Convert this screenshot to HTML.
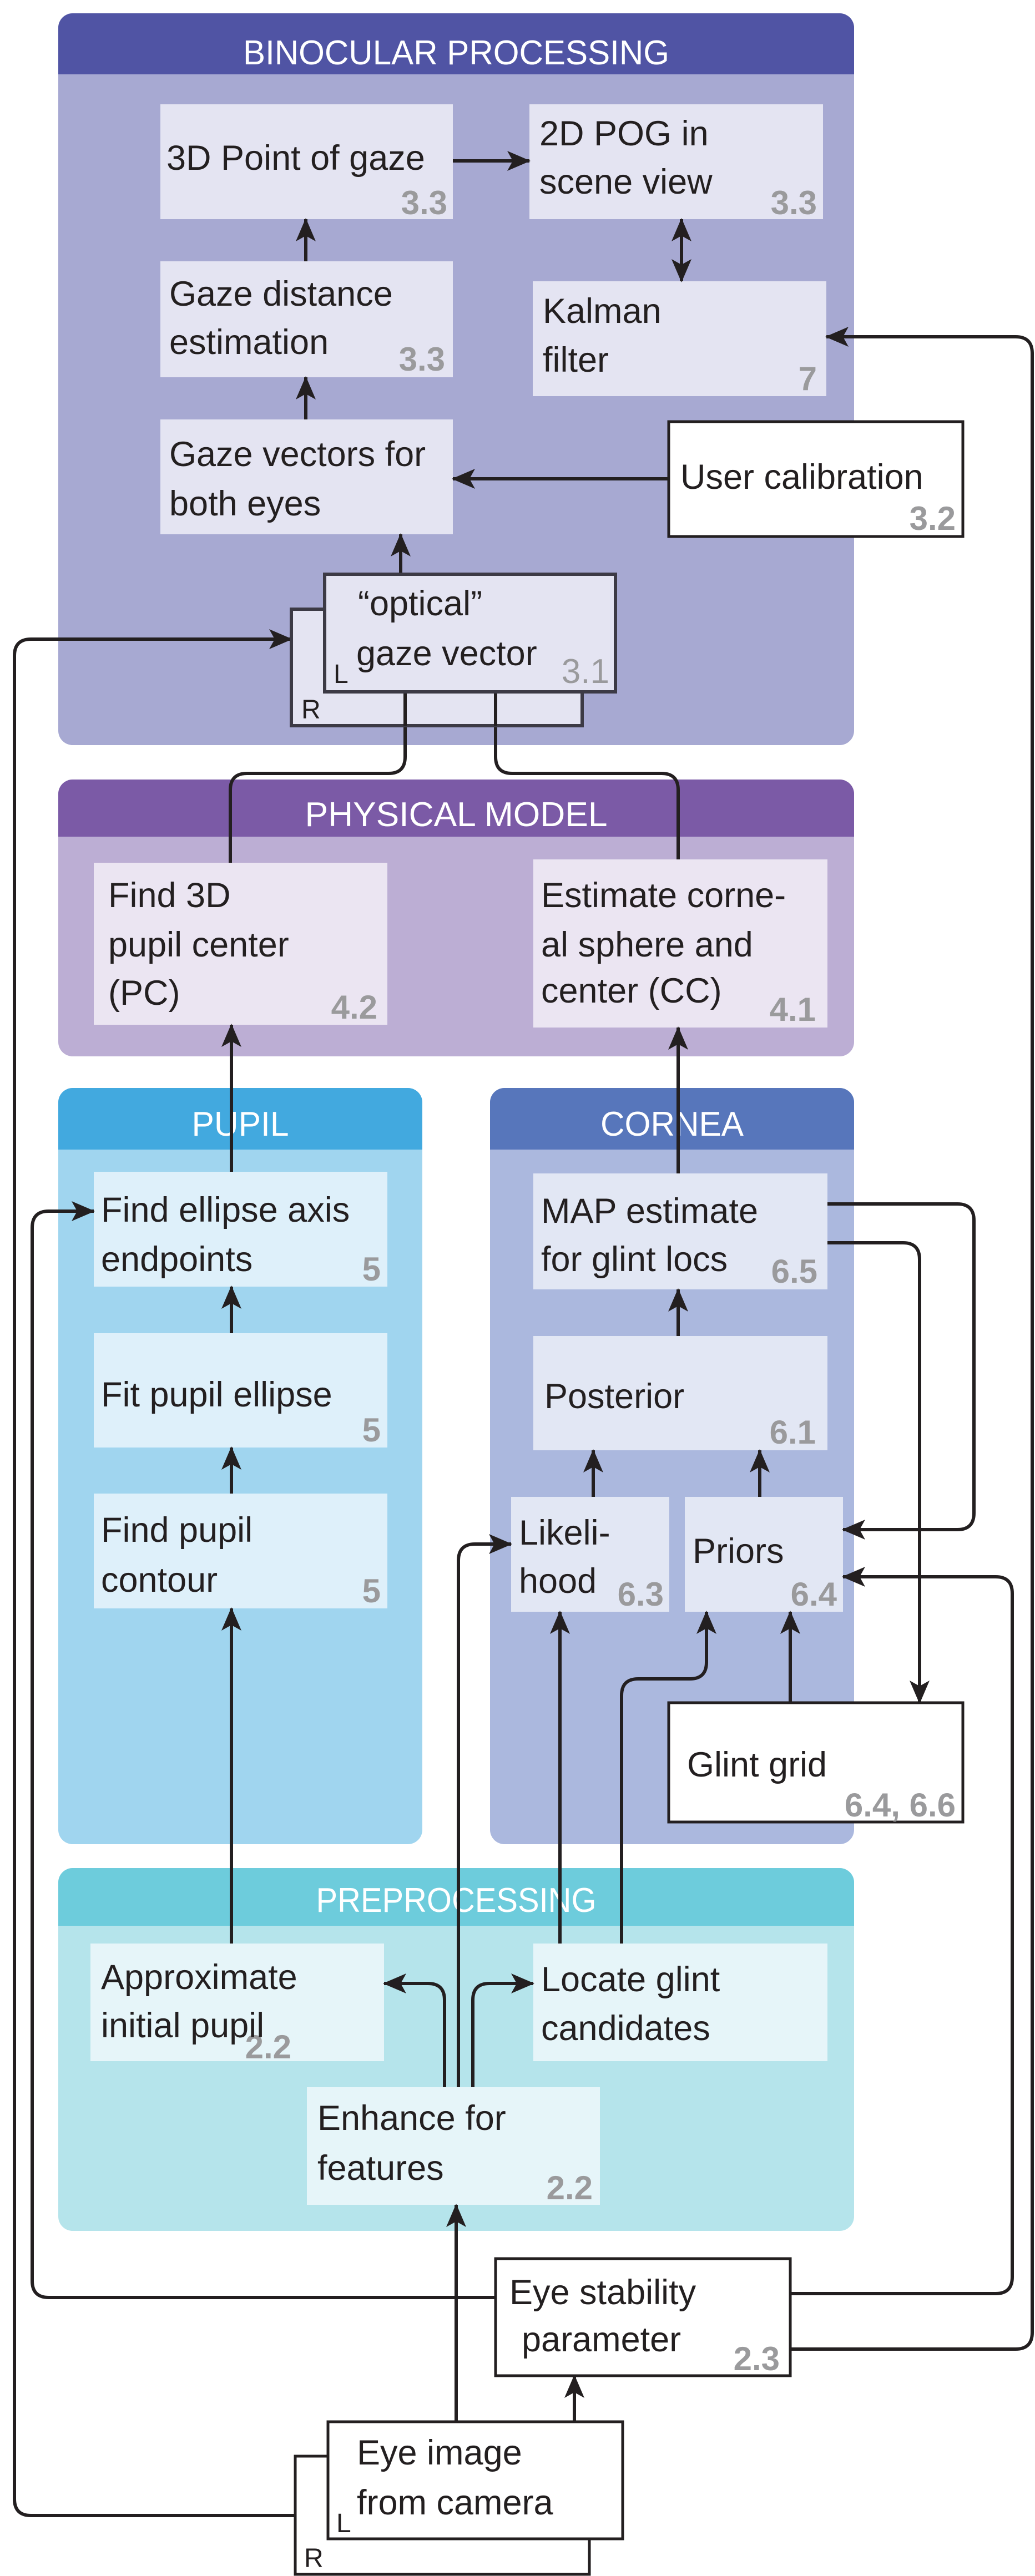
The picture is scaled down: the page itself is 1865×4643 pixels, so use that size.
<!DOCTYPE html>
<html><head><meta charset="utf-8"><style>
html,body{margin:0;padding:0;background:#fff}
svg{display:block}
text{font-family:"Liberation Sans",sans-serif}
.t{font-size:63px;fill:#231f20}
.n{font-size:60px;fill:#9a9a9c;font-weight:bold;text-anchor:end}
.h{font-size:62px;fill:#fff;text-anchor:middle}
.s{font-size:48px;fill:#231f20}
.l{fill:none;stroke:#231f20;stroke-width:6}
</style></head><body>
<svg width="1865" height="4643" viewBox="0 0 1865 4643" xmlns="http://www.w3.org/2000/svg">
<defs>
<marker id="a" markerUnits="userSpaceOnUse" markerWidth="44" markerHeight="44" refX="40" refY="20" orient="auto-start-reverse" viewBox="0 0 44 40">
<path d="M0,2 L42,20 L0,38 L10,20 Z" fill="#231f20"/>
</marker>
<clipPath id="c1"><rect x="105" y="24" width="1434" height="1319" rx="26"/></clipPath>
<clipPath id="c2"><rect x="105" y="1405" width="1434" height="499" rx="26"/></clipPath>
<clipPath id="c3"><rect x="105" y="1961" width="656" height="1363" rx="26"/></clipPath>
<clipPath id="c4"><rect x="883" y="1961" width="656" height="1363" rx="26"/></clipPath>
<clipPath id="c5"><rect x="105" y="3367" width="1434" height="654" rx="26"/></clipPath>
</defs>

<g clip-path="url(#c1)"><rect x="105" y="24" width="1434" height="1319" fill="#a7a9d2"/><rect x="105" y="24" width="1434" height="110" fill="#5054a4"/></g>
<g clip-path="url(#c2)"><rect x="105" y="1405" width="1434" height="499" fill="#bcaed4"/><rect x="105" y="1405" width="1434" height="103" fill="#7b5aa6"/></g>
<g clip-path="url(#c3)"><rect x="105" y="1961" width="656" height="1363" fill="#a0d5ef"/><rect x="105" y="1961" width="656" height="111" fill="#42a9df"/></g>
<g clip-path="url(#c4)"><rect x="883" y="1961" width="656" height="1363" fill="#abb8de"/><rect x="883" y="1961" width="656" height="111" fill="#5776bb"/></g>
<g clip-path="url(#c5)"><rect x="105" y="3367" width="1434" height="654" fill="#b5e4eb"/><rect x="105" y="3367" width="1434" height="104" fill="#6dccdc"/></g>
<text class="h" x="822" y="116" textLength="768" lengthAdjust="spacingAndGlyphs">BINOCULAR PROCESSING</text>
<text class="h" x="822" y="1489" textLength="545" lengthAdjust="spacingAndGlyphs">PHYSICAL MODEL</text>
<text class="h" x="433" y="2047" textLength="175" lengthAdjust="spacingAndGlyphs">PUPIL</text>
<text class="h" x="1211" y="2047" textLength="258" lengthAdjust="spacingAndGlyphs">CORNEA</text>
<text class="h" x="822" y="3446" textLength="505" lengthAdjust="spacingAndGlyphs">PREPROCESSING</text>

<g>
<rect x="289" y="188" width="527" height="207" fill="#e4e4f2"/>
<rect x="954" y="188" width="529" height="207" fill="#e4e4f2"/>
<rect x="289" y="471" width="527" height="209" fill="#e4e4f2"/>
<rect x="960" y="507" width="529" height="207" fill="#e4e4f2"/>
<rect x="289" y="756" width="527" height="207" fill="#e4e4f2"/>
<rect x="1205" y="760" width="530" height="207" fill="#fff" stroke="#231f20" stroke-width="5"/>
<rect x="169" y="1555" width="529" height="292" fill="#ebe5f2"/>
<rect x="961" y="1549" width="530" height="303" fill="#ebe5f2"/>
<rect x="169" y="2112" width="529" height="207" fill="#def0fa"/>
<rect x="169" y="2403" width="529" height="206" fill="#def0fa"/>
<rect x="169" y="2692" width="529" height="207" fill="#def0fa"/>
<rect x="961" y="2115" width="530" height="209" fill="#e2e7f4"/>
<rect x="961" y="2408" width="530" height="206" fill="#e2e7f4"/>
<rect x="921" y="2698" width="285" height="207" fill="#e2e7f4"/>
<rect x="1234" y="2698" width="285" height="207" fill="#e2e7f4"/>
<rect x="163" y="3503" width="529" height="212" fill="#e6f5f9"/>
<rect x="961" y="3503" width="530" height="212" fill="#e6f5f9"/>
<rect x="553" y="3762" width="528" height="212" fill="#e6f5f9"/>
</g>

<g class="l">
<path d="M532,4534 H56 Q26,4534 26,4504 V1182 Q26,1152 56,1152 H525" marker-end="url(#a)"/>
<path d="M893,4141 H88 Q58,4141 58,4111 V2213 Q58,2183 88,2183 H169" marker-end="url(#a)"/>
<path d="M1424,4134 H1794 Q1824,4134 1824,4104 V2872 Q1824,2842 1794,2842 H1519" marker-end="url(#a)"/>
<path d="M1424,4234 H1830 Q1860,4234 1860,4204 V637 Q1860,607 1830,607 H1489" marker-end="url(#a)"/>
<path d="M415,1555 V1424 Q415,1394 445,1394 H700 Q730,1394 730,1364 V1247" marker-end="url(#a)"/>
<path d="M1222,1549 V1424 Q1222,1394 1192,1394 H923 Q893,1394 893,1364 V1247" marker-end="url(#a)"/>
<path d="M417,2112 V1847" marker-end="url(#a)"/>
<path d="M1222,2115 V1852" marker-end="url(#a)"/>
<path d="M417,2403 V2319" marker-end="url(#a)"/>
<path d="M417,2692 V2609" marker-end="url(#a)"/>
<path d="M417,3503 V2899" marker-end="url(#a)"/>
<path d="M1222,2408 V2324" marker-end="url(#a)"/>
<path d="M1069,2698 V2614" marker-end="url(#a)"/>
<path d="M1369,2698 V2614" marker-end="url(#a)"/>
<path d="M1491,2170 H1725 Q1755,2170 1755,2200 V2727 Q1755,2757 1725,2757 H1519" marker-end="url(#a)"/>
<path d="M1491,2240 H1627 Q1657,2240 1657,2270 V3069" marker-end="url(#a)"/>
<path d="M1424,3069 V2905" marker-end="url(#a)"/>
<path d="M1009,3503 V2905" marker-end="url(#a)"/>
<path d="M1120,3503 V3056 Q1120,3026 1150,3026 H1243 Q1273,3026 1273,2996 V2905" marker-end="url(#a)"/>
<path d="M826,3762 V2813 Q826,2783 856,2783 H921" marker-end="url(#a)"/>
<path d="M801,3762 V3605 Q801,3575 771,3575 H692" marker-end="url(#a)"/>
<path d="M852,3762 V3605 Q852,3575 882,3575 H961" marker-end="url(#a)"/>
<path d="M822,4365 V3974" marker-end="url(#a)"/>
<path d="M1035,4365 V4282" marker-end="url(#a)"/>
<path d="M816,290 H954" marker-end="url(#a)"/>
<path d="M551,471 V395" marker-end="url(#a)"/>
<path d="M551,756 V680" marker-end="url(#a)"/>
<path d="M1228,395 V507" marker-start="url(#a)" marker-end="url(#a)"/>
<path d="M1205,863 H816" marker-end="url(#a)"/>
<path d="M722,1035 V963" marker-end="url(#a)"/>
</g>

<rect x="1205" y="3069" width="530" height="215" fill="#fff" stroke="#231f20" stroke-width="5"/>
<rect x="893" y="4071" width="531" height="211" fill="#fff" stroke="#231f20" stroke-width="5"/>
<rect x="525" y="1098" width="524" height="210" fill="#e4e4f2" stroke="#3c3a45" stroke-width="6"/>
<rect x="585" y="1035" width="524" height="212" fill="#e4e4f2" stroke="#3c3a45" stroke-width="6"/>
<g class="l"><path d="M730,1308 V1250"/><path d="M893,1308 V1250"/></g>
<rect x="532" y="4427" width="530" height="213" fill="#fff" stroke="#231f20" stroke-width="5"/>
<rect x="591" y="4365" width="531" height="211" fill="#fff" stroke="#231f20" stroke-width="5"/>

<text class="t" x="300" y="306">3D Point of gaze</text><text class="n" x="806" y="386">3.3</text>
<text class="t" x="972" y="262">2D POG in</text><text class="t" x="972" y="349">scene view</text><text class="n" x="1472" y="386">3.3</text>
<text class="t" x="305" y="551">Gaze distance</text><text class="t" x="305" y="638">estimation</text><text class="n" x="802" y="668">3.3</text>
<text class="t" x="978" y="582">Kalman</text><text class="t" x="978" y="670">filter</text><text class="n" x="1472" y="703">7</text>
<text class="t" x="305" y="840">Gaze vectors for</text><text class="t" x="305" y="929">both eyes</text>
<text class="t" x="1226" y="881">User calibration</text><text class="n" x="1722" y="955">3.2</text>
<text class="t" x="645" y="1109">“optical”</text><text class="t" x="642" y="1199">gaze vector</text><text class="n" x="1098" y="1231" style="font-weight:normal;font-size:62px">3.1</text>
<text class="s" x="601" y="1231">L</text><text class="s" x="543" y="1295">R</text>
<text class="t" x="195" y="1635">Find 3D</text><text class="t" x="195" y="1724">pupil center</text><text class="t" x="195" y="1811">(PC)</text><text class="n" x="680" y="1836">4.2</text>
<text class="t" x="975" y="1635">Estimate corne-</text><text class="t" x="975" y="1724">al sphere and</text><text class="t" x="975" y="1807">center (CC)</text><text class="n" x="1470" y="1840">4.1</text>
<text class="t" x="182" y="2202">Find ellipse axis</text><text class="t" x="182" y="2291">endpoints</text><text class="n" x="686" y="2308">5</text>
<text class="t" x="182" y="2535">Fit pupil ellipse</text><text class="n" x="686" y="2598">5</text>
<text class="t" x="182" y="2779">Find pupil</text><text class="t" x="182" y="2869">contour</text><text class="n" x="686" y="2888">5</text>
<text class="t" x="975" y="2204">MAP estimate</text><text class="t" x="975" y="2291">for glint locs</text><text class="n" x="1473" y="2312">6.5</text>
<text class="t" x="981" y="2538">Posterior</text><text class="n" x="1470" y="2602">6.1</text>
<text class="t" x="935" y="2784">Likeli-</text><text class="t" x="935" y="2871">hood</text><text class="n" x="1196" y="2894">6.3</text>
<text class="t" x="1248" y="2817">Priors</text><text class="n" x="1508" y="2894">6.4</text>
<text class="t" x="1238" y="3202">Glint grid</text><text class="n" x="1722" y="3274">6.4, 6.6</text>
<text class="n" x="525" y="3710">2.2</text>
<text class="t" x="182" y="3585">Approximate</text><text class="t" x="182" y="3672">initial pupil</text>
<text class="t" x="975" y="3589">Locate glint</text><text class="t" x="975" y="3677">candidates</text>
<text class="t" x="572" y="3839">Enhance for</text><text class="t" x="572" y="3929">features</text><text class="n" x="1068" y="3964">2.2</text>
<text class="t" x="918" y="4153">Eye stability</text><text class="t" x="940" y="4238">parameter</text><text class="n" x="1405" y="4272">2.3</text>
<text class="t" x="643" y="4442">Eye image</text><text class="t" x="643" y="4532">from camera</text>
<text class="s" x="606" y="4564">L</text><text class="s" x="548" y="4627">R</text>
</svg>
</body></html>
